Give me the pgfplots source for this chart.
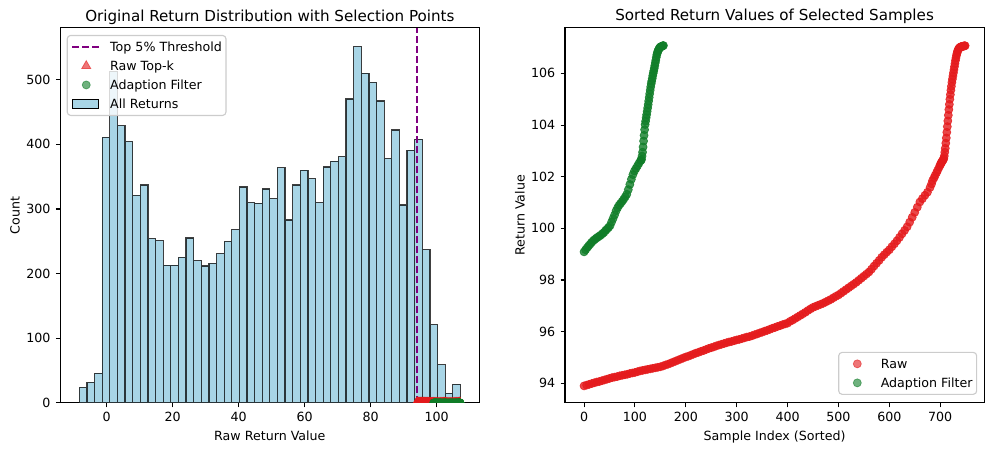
\documentclass[border=0pt]{standalone}
\usepackage{pgfplots}
\pgfplotsset{compat=1.18}
\usepackage{pgfplotstable}
\usepackage{fontspec}
\setmainfont{DejaVu Sans}
\definecolor{barfill}{RGB}{168,213,230}
\definecolor{rawred}{RGB}{228,26,28}
\definecolor{adgreen}{RGB}{16,125,40}
\definecolor{thrpurple}{RGB}{128,0,128}
\definecolor{legframe}{RGB}{204,204,204}

\pgfplotstableread{
e c
-8.30 24
-5.99 32
-3.68 46
-1.37 411
0.94 513
3.25 429
5.56 404
7.87 321
10.18 337
12.49 254
14.80 251
17.11 213
19.42 213
21.73 225
24.04 255
26.35 220
28.66 212
30.97 216
33.28 231
35.59 250
37.90 268
40.21 334
42.52 310
44.83 309
47.14 331
49.45 316
51.76 364
54.07 283
56.38 337
58.69 360
61.00 347
63.31 310
65.62 365
67.93 374
70.24 381
72.55 470
74.86 551
77.17 510
79.48 496
81.79 467
84.10 378
86.41 422
88.72 306
91.03 391
93.34 408
95.65 237
97.96 121
100.27 59
102.58 15
104.89 29
107.20 0
}\histdata

\pgfplotstableread{
i v
0 93.90
5 93.93
10 93.96
15 93.99
20 94.02
25 94.05
30 94.07
35 94.10
40 94.13
45 94.16
50 94.19
55 94.22
60 94.24
65 94.26
70 94.29
75 94.31
80 94.33
85 94.35
90 94.38
95 94.40
100 94.42
105 94.45
110 94.48
115 94.50
120 94.52
125 94.54
130 94.56
135 94.58
140 94.60
145 94.62
150 94.64
155 94.67
160 94.71
165 94.74
170 94.78
175 94.82
180 94.86
185 94.90
190 94.94
195 94.98
200 95.02
205 95.05
210 95.09
215 95.13
220 95.17
225 95.20
230 95.24
235 95.27
240 95.31
245 95.35
250 95.38
255 95.41
260 95.45
265 95.48
270 95.51
275 95.54
280 95.57
285 95.60
290 95.62
295 95.65
300 95.68
305 95.70
310 95.73
315 95.76
320 95.79
325 95.81
330 95.84
335 95.88
340 95.91
345 95.95
350 95.98
355 96.02
360 96.05
365 96.09
370 96.13
375 96.16
380 96.20
385 96.23
390 96.27
395 96.30
400 96.33
405 96.40
410 96.45
415 96.51
420 96.57
425 96.63
430 96.69
435 96.75
440 96.82
445 96.88
450 96.94
455 96.98
460 97.02
465 97.06
470 97.10
475 97.15
480 97.20
485 97.25
490 97.31
495 97.37
500 97.42
505 97.49
510 97.56
515 97.63
520 97.70
525 97.77
530 97.84
535 97.91
540 97.99
545 98.07
550 98.15
555 98.23
560 98.31
565 98.42
570 98.54
575 98.65
580 98.76
585 98.88
590 98.98
595 99.08
600 99.17
605 99.29
610 99.40
615 99.52
620 99.65
625 99.79
630 99.92
635 100.06
640 100.24
645 100.43
650 100.62
655 100.82
660 101.02
665 101.15
670 101.28
675 101.40
680 101.58
683 101.72
685 101.85
688 101.96
690 102.05
693 102.16
695 102.25
698 102.37
700 102.45
701 102.50
702 102.53
703 102.57
704 102.60
705 102.63
706 102.66
707 102.70
708 102.80
709 102.95
710 103.10
711 103.30
712 103.50
713 103.72
714 103.94
715 104.16
716 104.38
717 104.60
718 104.80
719 105.00
720 105.18
721 105.35
722 105.50
723 105.65
724 105.78
725 105.90
726 106.02
727 106.14
728 106.26
729 106.38
730 106.50
731 106.60
732 106.70
733 106.78
734 106.85
735 106.90
736 106.94
737 106.97
738 106.99
739 107.01
740 107.02
741 107.03
742 107.04
743 107.04
744 107.05
745 107.05
746 107.06
747 107.06
748 107.07
749 107.07
}\rawdata

\pgfplotstableread{
i v
0 99.09
3 99.17
6 99.25
9 99.32
12 99.39
15 99.46
18 99.52
21 99.57
24 99.62
27 99.66
30 99.70
33 99.74
36 99.79
39 99.84
42 99.91
45 99.97
48 100.03
51 100.10
54 100.24
57 100.38
60 100.52
63 100.68
66 100.80
69 100.90
72 100.97
75 101.05
78 101.13
81 101.22
84 101.32
87 101.50
90 101.70
93 101.90
96 102.08
99 102.22
102 102.32
105 102.42
108 102.52
111 102.62
112 102.64
113 102.67
114 102.80
115 102.95
116 103.15
117 103.38
118 103.60
119 103.82
120 104.02
121 104.15
122 104.28
123 104.40
124 104.53
125 104.66
126 104.79
127 104.93
128 105.07
129 105.21
130 105.35
131 105.48
132 105.60
133 105.70
134 105.80
135 105.91
136 106.01
137 106.10
138 106.20
139 106.30
140 106.41
141 106.51
142 106.62
143 106.72
144 106.79
145 106.85
146 106.90
147 106.94
148 106.97
149 107.00
150 107.02
151 107.03
152 107.04
153 107.05
154 107.06
155 107.07
156 107.08
}\adaptdata

\pgfplotsset{
  every axis title shift=0pt,
  myax/.style={
    scale only axis, width=301.8bp, height=270bp,
    axis line style={line width=0.75bp, black},
    tick style={line width=0.75bp, black},
    major tick length=3.2bp, tick align=outside,
    xtick pos=bottom, ytick pos=left,
    font=\fontsize{9.1bp}{11bp}\selectfont,
    ticklabel style={font=\fontsize{9.1bp}{11bp}\selectfont},
    /pgf/number format/assume math mode=true,
    xticklabel style={anchor=north, inner sep=0pt, yshift=-3.5bp},
    yticklabel style={anchor=east, inner sep=0pt, xshift=-3.7bp},
    title style={font=\fontsize{10.9bp}{13bp}\selectfont, at={(axis description cs:0.5,1)}, anchor=base, yshift=5bp, inner sep=0pt},
    xlabel style={font=\fontsize{9.1bp}{11bp}\selectfont, at={(axis description cs:0.5,0)}, anchor=base, yshift=-26.8bp, inner sep=0pt},
    ylabel style={font=\fontsize{9.1bp}{11bp}\selectfont, at={(axis description cs:0,0.5)}, anchor=center, yshift=32.5bp, inner sep=0pt},
    legend cell align=left,
    legend style={draw=legframe, line width=0.8bp, rounded corners=2.5bp, fill=white, fill opacity=0.8, text opacity=1,
      font=\fontsize{9.1bp}{11bp}\selectfont, inner xsep=3bp, inner ysep=1.4bp, row sep=0bp,
      nodes={inner xsep=0bp, inner ysep=3.25bp, text height=6.8bp, text depth=0.4bp}},
  },
  markleg/.style={legend image code/.code={\path (0bp,0bp) (26.5bp,0bp); \draw[sharp corners, mark repeat=2, mark phase=2, ##1, every mark/.append style={opacity=0.6}] plot coordinates {(0bp,0bp) (10bp,0bp) (20bp,0bp)};}},
  redmarks/.style={only marks, color=rawred, mark options={fill=rawred, draw=rawred, line width=0.5bp, opacity=0.8}},
  greenmarks/.style={only marks, color=adgreen, mark options={fill=adgreen, draw=adgreen, line width=0.5bp, opacity=0.8}},
}

\begin{document}
\begin{tikzpicture}
\path[use as bounding box] (0bp,0bp) rectangle (717.12bp,324.72bp);

\begin{axis}[myax, at={(43.4bp,34.6bp)}, anchor=south west,
  xmin=-14.08, xmax=112.98, ymin=0, ymax=580,
  xtick={0,20,40,60,80,100}, ytick={0,100,200,300,400,500},
  clip marker paths=true,
  title={Original Return Distribution with Selection Points},
  xlabel={Raw Return Value}, ylabel={Count},
  legend style={at={(axis description cs:0,1)}, anchor=north west, xshift=4.6bp, yshift=-5bp},
]
\addplot[ybar interval, fill=barfill, draw=black, draw opacity=0.75, line width=0.9bp, forget plot] table[x=e, y=c] {\histdata};
\addplot[thrpurple, line width=1.4bp, dash pattern=on 5bp off 2.2bp,
  legend image code/.code={\path (0bp,0bp) (26.5bp,0bp); \draw[sharp corners, ##1] (0bp,0bp) -- (19bp,0bp);}]
  coordinates {(93.94,0) (93.94,580)};
\addlegendentry{Top 5\% Threshold}
\addplot[redmarks, mark=triangle*, mark size=3.8bp, markleg]
  table[x=v, y expr=0] {\rawdata};
\addlegendentry{Raw Top-k}
\addplot[greenmarks, mark=*, mark size=2.9bp, markleg]
  table[x=v, y expr=0] {\adaptdata};
\addlegendentry{Adaption Filter}
\addlegendimage{legend image code/.code={\path (0bp,0bp) (26.5bp,0bp); \draw[sharp corners, fill=barfill, fill opacity=1, draw=black, line width=0.9bp] (0bp,-3bp) rectangle (19bp,3bp);}}
\addlegendentry{All Returns}
\end{axis}

\begin{axis}[myax, at={(406.8bp,34.6bp)}, anchor=south west,
  xmin=-37.45, xmax=786.45, ymin=93.24, ymax=107.76,
  xtick={0,100,200,300,400,500,600,700}, ytick={94,96,98,100,102,104,106},
  title={Sorted Return Values of Selected Samples},
  xlabel={Sample Index (Sorted)}, ylabel={Return Value},
  legend style={at={(axis description cs:1,0)}, anchor=south east, xshift=-5bp, yshift=5.8bp},
]
\addplot[redmarks, mark=*, mark size=2.9bp, markleg]
  table[x=i, y=v] {\rawdata};
\addlegendentry{Raw}
\addplot[greenmarks, mark=*, mark size=2.9bp, markleg]
  table[x=i, y=v] {\adaptdata};
\addlegendentry{Adaption Filter}
\end{axis}
\end{tikzpicture}
\end{document}
